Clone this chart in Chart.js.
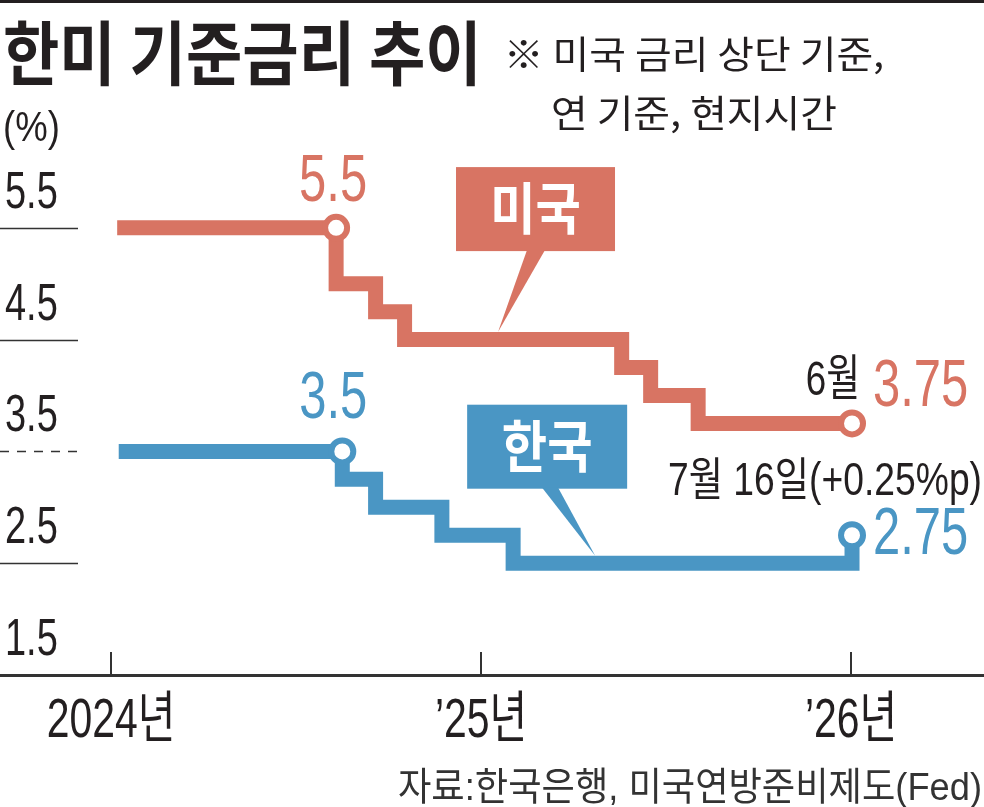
<!DOCTYPE html>
<html lang="ko">
<head>
<meta charset="utf-8">
<title>한미 기준금리 추이</title>
<script src="https://cdn.jsdelivr.net/npm/chart.js@4.4.1/dist/chart.umd.min.js"></script>
<style>
  html, body { margin: 0; padding: 0; background: #fff; }
  #wrap { width: 984px; height: 807px; }
</style>
</head>
<body>
<div id="wrap"><canvas id="rateChart" width="984" height="807"></canvas></div>
<script>
// x = months counted from Jan 2024 (0 = 2024.1, 12 = 2025.1, 24 = 2026.1)
// each point = date of a rate change and the new rate (stepped 'before')
const usDates = [0.2, 7.3, 8.58, 9.52, 16.56, 17.5, 19.04, 24.03];
const usRates = [5.5, 5.0, 4.75, 4.5, 4.25, 4.0, 3.75, 3.75];

const krDates = [0.25, 7.5, 8.58, 10.73, 13.04, 24.03];
const krRates = [3.5, 3.25, 3.0, 2.75, 2.5, 2.75];

// circled points
const usMarkDates = [7.3, 24.03];
const usMarkRates = [5.5, 3.75];
const krMarkDates = [7.5, 24.03];
const krMarkRates = [3.5, 2.75];

// axes
const yearTicks = [0, 12, 24];
const yearLabels = ['2024년', '\u201925년', '\u201926년'];
const rateTicks = [5.5, 4.5, 3.5, 2.5, 1.5];
const rateLabels = ['5.5', '4.5', '3.5', '2.5', '1.5'];

const US_COLOR = '#d87463';
const KR_COLOR = '#4a96c4';
const INK = '#231f20';
const LATIN = "'Liberation Sans', 'Noto Sans CJK KR', sans-serif";
const HANGUL = "'Noto Sans CJK KR', sans-serif";

function toPoints(xs, ys) {
    return xs.map((x, i) => ({ x, y: ys[i] }));
}

// condensed text: the original uses a narrow gothic face
function drawText(ctx, text, x, y, o) {
    ctx.save();
    ctx.font = `${o.weight || 400} ${o.size}px ${o.family || LATIN}`;
    ctx.fillStyle = o.color || INK;
    ctx.textBaseline = 'alphabetic';
    ctx.textAlign = 'left';
    const sx = o.sx || 1;
    const w = ctx.measureText(text).width * sx;
    let left = x;
    if (o.align === 'center') left = x - w / 2;
    else if (o.align === 'right') left = x - w;
    ctx.translate(left, y);
    ctx.scale(sx, 1);
    ctx.fillText(text, 0, 0);
    ctx.restore();
}

function drawCallout(ctx, tipX, tipY, box, color, label) {
    ctx.save();
    ctx.fillStyle = color;
    const left = tipX + box.left, right = tipX + box.right;
    const top = tipY + box.top, bottom = tipY + box.bottom;
    ctx.fillRect(left, top, right - left, bottom - top);
    ctx.beginPath();
    ctx.moveTo(tipX + box.base[0], bottom - 1);
    ctx.lineTo(tipX + box.base[1], bottom - 1);
    ctx.lineTo(tipX, tipY);
    ctx.closePath();
    ctx.fill();
    ctx.restore();
    const size = 56;
    drawText(ctx, label, (left + right) / 2, (top + bottom) / 2 + 0.36 * size,
        { size, weight: 700, family: HANGUL, color: '#fff', align: 'center', sx: 0.88 });
}

const overlay = {
    id: 'overlay',
    beforeDatasetsDraw(chart) {
        const { ctx, scales: { x, y } } = chart;
        // top rule
        ctx.save();
        ctx.fillStyle = INK;
        ctx.fillRect(0, 0, chart.width, 3);

        // short y grid stubs at the left
        ctx.strokeStyle = '#333';
        ctx.lineWidth = 1.5;
        rateTicks.forEach(v => {
            if (v === 1.5) return;
            const py = Math.round(y.getPixelForValue(v)) + 0.5;
            ctx.setLineDash(v === 3.5 ? [9, 8] : []);
            ctx.beginPath();
            ctx.moveTo(0, py);
            ctx.lineTo(78, py);
            ctx.stroke();
        });
        ctx.setLineDash([]);

        // year tick marks pointing up from the x axis
        ctx.lineWidth = 2;
        yearTicks.forEach(t => {
            const px = Math.round(x.getPixelForValue(t));
            ctx.beginPath();
            ctx.moveTo(px, y.bottom);
            ctx.lineTo(px, y.bottom - 23);
            ctx.stroke();
        });
        ctx.restore();

        rateTicks.forEach((v, i) => {
            drawText(ctx, rateLabels[i], 5, y.getPixelForValue(v) - 20, { size: 52, sx: 0.73 });
        });
        yearTicks.forEach((t, i) => {
            drawText(ctx, yearLabels[i], x.getPixelForValue(t), 737, { size: 56, sx: 0.73, align: 'center' });
        });
    },
    afterDatasetsDraw(chart) {
        const { ctx, scales: { x, y } } = chart;
        const half = 7.5; // half of line width: tip sits on top edge of the line

        drawCallout(ctx, x.getPixelForValue(12.55), y.getPixelForValue(usRates[3]) - half,
            { left: -42, right: 117, top: -165, bottom: -81, base: [29, 47] }, US_COLOR, '미국');
        drawCallout(ctx, x.getPixelForValue(15.7), y.getPixelForValue(krRates[4]) - half,
            { left: -128, right: 32, top: -151, bottom: -67, base: [-53, -37] }, KR_COLOR, '한국');
    },
    afterDraw(chart) {
        const { ctx, scales: { x, y } } = chart;

        drawText(ctx, '한미 기준금리 추이', 3, 80, { size: 70, weight: 700, family: HANGUL, sx: 0.875 });
        drawText(ctx, '※ 미국 금리 상단 기준,', 694, 68, { size: 38, family: HANGUL, align: 'center', sx: 1.05 });
        drawText(ctx, '연 기준, 현지시간', 694, 127, { size: 38, family: HANGUL, align: 'center', sx: 1.05 });
        drawText(ctx, '(%)', 3, 141, { size: 42, sx: 0.87 });

        // value labels around the circled points
        const us0x = x.getPixelForValue(usMarkDates[0]), us0y = y.getPixelForValue(usMarkRates[0]);
        const us1x = x.getPixelForValue(usMarkDates[1]), us1y = y.getPixelForValue(usMarkRates[1]);
        const kr0x = x.getPixelForValue(krMarkDates[0]), kr0y = y.getPixelForValue(krMarkRates[0]);
        const kr1x = x.getPixelForValue(krMarkDates[1]), kr1y = y.getPixelForValue(krMarkRates[1]);
        const big = { size: 67, sx: 0.73 };

        drawText(ctx, String(usMarkRates[0]), us0x - 3, us0y - 27, { ...big, color: US_COLOR, align: 'center' });
        drawText(ctx, String(krMarkRates[0]), kr0x - 9, kr0y - 33, { ...big, color: KR_COLOR, align: 'center' });
        drawText(ctx, usMarkRates[1].toFixed(2), us1x + 21, us1y - 17, { ...big, color: US_COLOR });
        drawText(ctx, '6월', us1x + 8, us1y - 28, { size: 49, sx: 0.75, align: 'right' });
        drawText(ctx, krMarkRates[1].toFixed(2), kr1x + 21, kr1y + 19, { ...big, color: KR_COLOR });
        drawText(ctx, '7월 16일(+0.25%p)', kr1x + 130, kr1y - 40, { size: 46, sx: 0.81, align: 'right' });

        drawText(ctx, '자료:한국은행, 미국연방준비제도(Fed)', 982, 800, { size: 39, sx: 0.93, align: 'right', color: '#333' });
    }
};

const markStyle = {
    showLine: false,
    pointRadius: 11,
    pointHoverRadius: 11,
    pointBorderWidth: 6,
    pointBackgroundColor: '#fff',
    order: 0
};
const lineStyle = {
    stepped: 'before',
    borderWidth: 15,
    pointRadius: 0,
    borderJoinStyle: 'miter',
    borderCapStyle: 'butt',
    fill: false,
    order: 1
};

new Chart(document.getElementById('rateChart'), {
    type: 'line',
    data: {
        datasets: [
            { label: '미국 표시', data: toPoints(usMarkDates, usMarkRates), pointBorderColor: US_COLOR, ...markStyle },
            { label: '한국 표시', data: toPoints(krMarkDates, krMarkRates), pointBorderColor: KR_COLOR, ...markStyle },
            { label: '미국', data: toPoints(usDates, usRates), borderColor: US_COLOR, ...lineStyle },
            { label: '한국', data: toPoints(krDates, krRates), borderColor: KR_COLOR, ...lineStyle }
        ]
    },
    options: {
        responsive: false,
        animation: false,
        events: [],
        layout: { autoPadding: false, padding: { top: 116, bottom: 132, left: 0, right: 0 } },
        plugins: {
            legend: { display: false },
            tooltip: { enabled: false }
        },
        scales: {
            x: {
                type: 'linear',
                min: -3.6,
                max: 28.31,
                ticks: { display: false },
                grid: { display: true, drawOnChartArea: false, drawTicks: false },
                border: { display: true, color: '#333', width: 3 }
            },
            y: {
                display: false,
                min: 1.5,
                max: 6.5
            }
        }
    },
    plugins: [overlay]
});
</script>
</body>
</html>
